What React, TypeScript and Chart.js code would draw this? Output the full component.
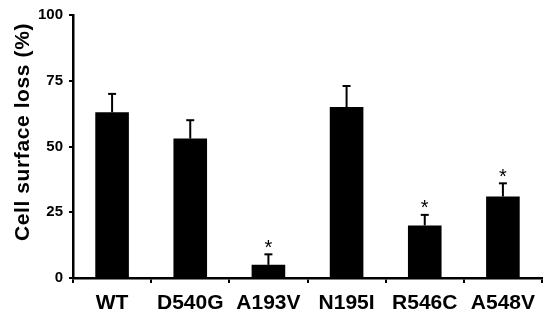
import React, { useEffect, useRef } from "react";
import { Chart, registerables } from "chart.js";

Chart.register(...registerables);

const categories = ["WT", "D540G", "A193V", "N195I", "R546C", "A548V"];
const values = [63, 53, 5, 65, 20, 31];
const errors = [7, 7, 4, 8, 4, 5];
const significant = [false, false, true, false, true, true];
const yTicks = [0, 25, 50, 75, 100];
const yTitle = "Cell surface loss (%)";

const FONT = "'Liberation Sans', Arial, Helvetica, sans-serif";

const overlayPlugin = {
  id: "overlay",
  afterDatasetsDraw(chart: any) {
    const ctx = chart.ctx;
    const meta = chart.getDatasetMeta(0);
    const y = chart.scales.y;
    ctx.save();
    ctx.strokeStyle = "#000";
    ctx.fillStyle = "#000";
    meta.data.forEach((bar: any, i: number) => {
      const top = y.getPixelForValue(values[i]);
      const errTop = y.getPixelForValue(values[i] + errors[i]);
      ctx.lineWidth = 2;
      ctx.beginPath();
      ctx.moveTo(bar.x, top);
      ctx.lineTo(bar.x, errTop);
      ctx.stroke();
      ctx.beginPath();
      ctx.moveTo(bar.x - 4, errTop);
      ctx.lineTo(bar.x + 4, errTop);
      ctx.stroke();
      if (significant[i]) {
        ctx.font = `20px ${FONT}`;
        ctx.textAlign = "center";
        ctx.textBaseline = "alphabetic";
        ctx.fillText("*", bar.x, errTop - 0.5);
      }
    });
    // y title
    ctx.save();
    ctx.translate(23, 132);
    ctx.rotate(-Math.PI / 2);
    ctx.font = `bold 21px ${FONT}`;
    (ctx as any).letterSpacing = "0.6px";
    ctx.textAlign = "center";
    ctx.textBaseline = "middle";
    ctx.fillText(yTitle, 0, 0);
    ctx.restore();
    ctx.restore();
  },
};

export default function App() {
  const ref = useRef<HTMLCanvasElement>(null);
  useEffect(() => {
    if (!ref.current) return;
    const chart = new Chart(ref.current, {
      type: "bar",
      data: {
        labels: categories,
        datasets: [
          {
            data: values,
            backgroundColor: "#000",
            borderWidth: 0,
            categoryPercentage: 1,
            barPercentage: 0.43,
          },
        ],
      },
      plugins: [overlayPlugin],
      options: {
        responsive: false,
        animation: false,
        layout: { padding: { left: 0, top: 15, right: 8, bottom: 0 } },
        plugins: { legend: { display: false }, tooltip: { enabled: false } },
        scales: {
          x: {
            grid: {
              offset: true,
              drawOnChartArea: false,
              tickLength: 5,
              color: "#000",
              lineWidth: 2,
            },
            border: { display: true, color: "#000", width: 2.5 },
            ticks: {
              color: "#000",
              font: { family: FONT, size: 21, weight: "bold" },
              padding: 8,
              maxRotation: 0,
              autoSkip: false,
            },
            afterFit(scale: any) {
              scale.height = 322 - 278;
            },
          },
          y: {
            min: 0,
            max: 100,
            afterBuildTicks(scale: any) {
              scale.ticks = yTicks.map((v) => ({ value: v }));
            },
            grid: {
              drawOnChartArea: false,
              tickLength: 4,
              color: "#000",
              lineWidth: 2,
            },
            border: { display: true, color: "#000", width: 2.5 },
            ticks: {
              color: "#000",
              font: { family: FONT, size: 15, weight: "bold" },
              padding: 6,
            },
            afterFit(scale: any) {
              scale.width = 73;
            },
          },
        },
      },
    } as any);
    return () => chart.destroy();
  }, []);
  return (
    <div style={{ position: "fixed", left: 0, top: 0, width: 550, height: 322, background: "#fff" }}>
      <canvas ref={ref} width={550} height={322} />
    </div>
  );
}
